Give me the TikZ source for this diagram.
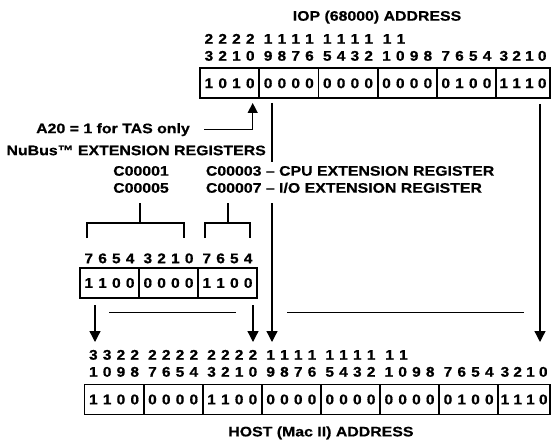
\documentclass[tikz,border=0pt]{standalone}
\usepackage{fontspec}
\newfontfamily\lab{Liberation Sans}[FakeStretch=1.15, BoldFeatures={FakeBold=0.6}]
\newfontfamily\digf{Liberation Sans}[FakeStretch=1.1, BoldFeatures={FakeBold=0.8}]
\usetikzlibrary{arrows.meta}
\newcommand\fourd[4]{\makebox[13.8pt]{#1}\makebox[13.8pt]{#2}\makebox[13.8pt]{#3}\makebox[13.8pt]{#4}}
\newcommand\fourn[4]{\makebox[12.8pt]{#1}\makebox[12.8pt]{#2}\makebox[12.8pt]{#3}\makebox[12.8pt]{#4}}
\newcommand\twod[2]{\makebox[13.8pt]{#1}\makebox[13.8pt]{#2}}
\tikzset{
  txt/.style={inner sep=0pt, font=\lab\bfseries\fontsize{13.8}{15}\selectfont},
  dig/.style={inner sep=0pt, font=\digf\bfseries\fontsize{14}{15}\selectfont},
  cell/.style={dig, draw, line width=1.8pt, minimum height=30pt},
  ln/.style={line width=1.3pt},
  arr/.style={line width=1.3pt, -{Triangle[width=11pt,length=11pt]}},
  arrs/.style={line width=1.3pt, -{Triangle[width=10pt,length=10pt]}}
}
\begin{document}
\begin{tikzpicture}[x=1pt,y=-1pt]
\useasboundingbox (0,0) rectangle (551,441);
% ---------- top register (IOP) ----------
\node[txt,anchor=base] (ttitle) at (377,20.7) {IOP (68000) ADDRESS};
\node[dig,anchor=base] (th1) at (229.6,43.7) {\fourd2222};
\node[dig,anchor=base] (th2) at (288.8,43.7) {\fourd1111};
\node[dig,anchor=base] (th3) at (348,43.7) {\fourd1111};
\node[dig,anchor=base west] (th4) at (380,43.7) {\twod11};
\node[dig,anchor=base] (tl1) at (229.6,60.7) {\fourd3210};
\node[dig,anchor=base] (tl2) at (288.8,60.7) {\fourd9876};
\node[dig,anchor=base] (tl3) at (348,60.7) {\fourd5432};
\node[dig,anchor=base] (tl4) at (407.2,60.7) {\fourd1098};
\node[dig,anchor=base] (tl5) at (466.4,60.7) {\fourd7654};
\node[dig,anchor=base] (tl6) at (523,60.7) {\fourn3210};
\node[cell,minimum width=59.2pt] (t1) at (229.6,83.3) {\fourd1010};
\node[cell,minimum width=59.2pt] (t2) at (288.8,83.3) {\fourd0000};
\node[cell,minimum width=59.2pt] (t3) at (348,83.3) {\fourd0000};
\node[cell,minimum width=59.2pt] (t4) at (407.2,83.3) {\fourd0000};
\node[cell,minimum width=59.2pt] (t5) at (466.4,83.3) {\fourd0100};
\node[cell,minimum width=54pt] (t6) at (523,83.3) {\fourn1110};
% ---------- labels ----------
\node[txt,anchor=base east] (a20) at (190,133.2) {A20 = 1 for TAS only};
\node[txt,anchor=base east] (nubus) at (266,155.2) {NuBus™ EXTENSION REGISTERS};
\node[txt,anchor=base] (c1) at (141,175.7) {C00001};
\node[txt,anchor=base] (c5) at (141,192.7) {C00005};
\node[txt,anchor=base west] (c3) at (205.7,175.7) {C00003 – CPU EXTENSION REGISTER};
\node[txt,anchor=base west] (c7) at (205.7,192.7) {C00007 – I/O EXTENSION REGISTER};
% ---------- middle register ----------
\node[dig,anchor=base] (mh1) at (109.5,263.2) {\fourd7654};
\node[dig,anchor=base] (mh2) at (168.5,263.2) {\fourd3210};
\node[dig,anchor=base] (mh3) at (227.5,263.2) {\fourd7654};
\node[cell,minimum width=59pt] (m1) at (109.5,283) {\fourd1100};
\node[cell,minimum width=59pt] (m2) at (168.5,283) {\fourd0000};
\node[cell,minimum width=59pt] (m3) at (227.5,283) {\fourd1100};
% ---------- bottom register (HOST) ----------
\node[dig,anchor=base] (bh1) at (114.05,359.7) {\fourd3322};
\node[dig,anchor=base] (bh2) at (173.15,359.7) {\fourd2222};
\node[dig,anchor=base] (bh3) at (232.25,359.7) {\fourd2222};
\node[dig,anchor=base] (bh4) at (291.35,359.7) {\fourd1111};
\node[dig,anchor=base] (bh5) at (350.45,359.7) {\fourd1111};
\node[dig,anchor=base west] (bh6) at (382.5,359.7) {\twod11};
\node[dig,anchor=base] (bl1) at (114.05,376.7) {\fourd1098};
\node[dig,anchor=base] (bl2) at (173.15,376.7) {\fourd7654};
\node[dig,anchor=base] (bl3) at (232.25,376.7) {\fourd3210};
\node[dig,anchor=base] (bl4) at (291.35,376.7) {\fourd9876};
\node[dig,anchor=base] (bl5) at (350.45,376.7) {\fourd5432};
\node[dig,anchor=base] (bl6) at (409.55,376.7) {\fourd1098};
\node[dig,anchor=base] (bl7) at (468.65,376.7) {\fourd7654};
\node[dig,anchor=base] (bl8) at (524.1,376.7) {\fourn3210};
\node[cell,minimum width=59.1pt] (b1) at (114.05,399.5) {\fourd1100};
\node[cell,minimum width=59.1pt] (b2) at (173.15,399.5) {\fourd0000};
\node[cell,minimum width=59.1pt] (b3) at (232.25,399.5) {\fourd1100};
\node[cell,minimum width=59.1pt] (b4) at (291.35,399.5) {\fourd0000};
\node[cell,minimum width=59.1pt] (b5) at (350.45,399.5) {\fourd0000};
\node[cell,minimum width=59.1pt] (b6) at (409.55,399.5) {\fourd0000};
\node[cell,minimum width=59.1pt] (b7) at (468.65,399.5) {\fourd0100};
\node[cell,minimum width=51.8pt] (b8) at (524.1,399.5) {\fourn1110};
\node[txt,anchor=base] (btitle) at (320.9,436.4) {HOST (Mac II) ADDRESS};
% ---------- coordinates ----------
\coordinate (a20s) at (204,129.3);
\coordinate (a20t) at (252.7,103);
\coordinate (L1) at (272,103);
\coordinate (L2) at (272,162);
\coordinate (L3) at (272,203);
\coordinate (L4) at (272,342);
\coordinate (R1) at (540,104);
\coordinate (R2) at (540,342);
\coordinate (P1) at (95,305);
\coordinate (P2) at (95,342);
\coordinate (Q1) at (253,305);
\coordinate (Q2) at (253,342);
\coordinate (H1) at (109,312.7);
\coordinate (H2) at (236,312.7);
\coordinate (H3) at (287,312.7);
\coordinate (H4) at (524,312.7);
\coordinate (BL1) at (87,238);
\coordinate (BL2) at (184,238);
\coordinate (BLs) at (140,203);
\coordinate (BLm) at (140,223);
\coordinate (BR1) at (205,238);
\coordinate (BR2) at (250,238);
\coordinate (BRs) at (228,203);
\coordinate (BRm) at (228,223);
% ---------- connectors ----------
\draw[arrs] (a20s) -| (a20t);
\draw[ln] (L1) -- (L2);
\draw[arr] (L3) -- (L4);
\draw[arr] (R1) -- (R2);
\draw[arr] (P1) -- (P2);
\draw[arr] (Q1) -- (Q2);
\draw[ln] (H1) -- (H2);
\draw[ln] (H3) -- (H4);
\draw[ln] (BL1) |- (BLm) -| (BL2);
\draw[ln] (BLs) -- (BLm);
\draw[ln] (BR1) |- (BRm) -| (BR2);
\draw[ln] (BRs) -- (BRm);
\end{tikzpicture}
\end{document}
